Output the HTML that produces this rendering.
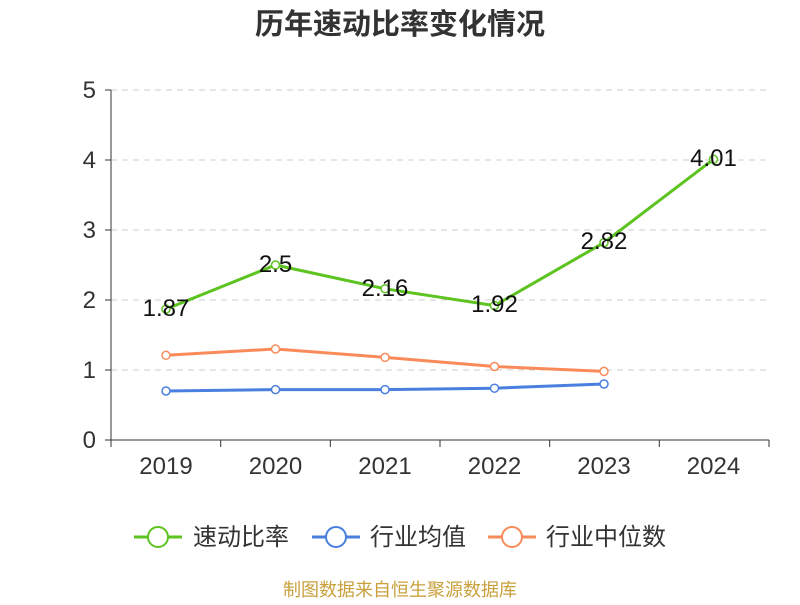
<!DOCTYPE html>
<html><head><meta charset="utf-8"><style>
body{margin:0;background:#fff;}
svg text{font-family:"Liberation Sans","Noto Sans CJK SC",sans-serif;}
</style></head><body>
<svg width="800" height="600" xmlns="http://www.w3.org/2000/svg">
<rect width="800" height="600" fill="#fff"/>
<text x="400" y="34" text-anchor="middle" font-size="29" font-weight="bold" fill="#333">历年速动比率变化情况</text>
<g stroke="#ccc" stroke-dasharray="6,5" stroke-width="1">
<line x1="111" y1="90" x2="769" y2="90"/><line x1="111" y1="160" x2="769" y2="160"/>
<line x1="111" y1="230" x2="769" y2="230"/><line x1="111" y1="300" x2="769" y2="300"/>
<line x1="111" y1="370" x2="769" y2="370"/>
</g>
<g stroke="#333" stroke-width="1">
<line x1="111" y1="90" x2="111" y2="440"/><line x1="111" y1="440" x2="769" y2="440"/>
<line x1="105" y1="90" x2="111" y2="90"/><line x1="105" y1="160" x2="111" y2="160"/><line x1="105" y1="230" x2="111" y2="230"/><line x1="105" y1="300" x2="111" y2="300"/><line x1="105" y1="370" x2="111" y2="370"/><line x1="105" y1="440" x2="111" y2="440"/>
<line x1="111" y1="440" x2="111" y2="447"/><line x1="220.7" y1="440" x2="220.7" y2="447"/><line x1="330.3" y1="440" x2="330.3" y2="447"/><line x1="440" y1="440" x2="440" y2="447"/><line x1="549.7" y1="440" x2="549.7" y2="447"/><line x1="659.3" y1="440" x2="659.3" y2="447"/><line x1="769" y1="440" x2="769" y2="447"/>
</g>
<g font-size="24" fill="#333" text-anchor="end">
<text x="96" y="98">5</text><text x="96" y="168">4</text><text x="96" y="238">3</text><text x="96" y="308">2</text><text x="96" y="378">1</text><text x="96" y="448">0</text>
</g>
<g font-size="24" fill="#333" text-anchor="middle">
<text x="166" y="474">2019</text><text x="275.5" y="474">2020</text><text x="385" y="474">2021</text><text x="494.5" y="474">2022</text><text x="604" y="474">2023</text><text x="713.5" y="474">2024</text>
</g>
<polyline fill="none" stroke="#f98b5b" stroke-width="3" points="166,355.3 275.5,349 385,357.4 494.5,366.5 604,371.4"/>
<polyline fill="none" stroke="#4a7fe0" stroke-width="3" points="166,391 275.5,389.6 385,389.6 494.5,388.2 604,384"/>
<polyline fill="none" stroke="#5cc31f" stroke-width="3" points="166,309.1 275.5,265 385,288.8 494.5,305.6 604,242.6 713.5,159.3"/>
<g fill="#fff" stroke-width="1.5">
<g stroke="#f98b5b"><circle cx="166" cy="355.3" r="4"/><circle cx="275.5" cy="349" r="4"/><circle cx="385" cy="357.4" r="4"/><circle cx="494.5" cy="366.5" r="4"/><circle cx="604" cy="371.4" r="4"/></g>
<g stroke="#4a7fe0"><circle cx="166" cy="391" r="4"/><circle cx="275.5" cy="389.6" r="4"/><circle cx="385" cy="389.6" r="4"/><circle cx="494.5" cy="388.2" r="4"/><circle cx="604" cy="384" r="4"/></g>
<g stroke="#5cc31f"><circle cx="166" cy="309.1" r="4"/><circle cx="275.5" cy="265" r="4"/><circle cx="385" cy="288.8" r="4"/><circle cx="494.5" cy="305.6" r="4"/><circle cx="604" cy="242.6" r="4"/><circle cx="713.5" cy="159.3" r="4"/></g>
</g>
<g font-size="24" fill="#111" text-anchor="middle">
<text x="166" y="316">1.87</text><text x="275.5" y="272">2.5</text><text x="385" y="296">2.16</text><text x="494.5" y="312">1.92</text><text x="604" y="249">2.82</text><text x="713.5" y="166">4.01</text>
</g>
<g font-size="24" fill="#333">
<line x1="134" y1="537" x2="182" y2="537" stroke="#5cc31f" stroke-width="3"/><circle cx="158" cy="537" r="10" fill="#fff" stroke="#5cc31f" stroke-width="2"/>
<text x="193" y="545">速动比率</text>
<line x1="312" y1="537" x2="360" y2="537" stroke="#4a7fe0" stroke-width="3"/><circle cx="336" cy="537" r="10" fill="#fff" stroke="#4a7fe0" stroke-width="2"/>
<text x="370" y="545">行业均值</text>
<line x1="488" y1="537" x2="536" y2="537" stroke="#f98b5b" stroke-width="3"/><circle cx="512" cy="537" r="10" fill="#fff" stroke="#f98b5b" stroke-width="2"/>
<text x="546" y="545">行业中位数</text>
</g>
<text x="400" y="596" text-anchor="middle" font-size="18" fill="#c9a03c">制图数据来自恒生聚源数据库</text>
</svg>
</body></html>
